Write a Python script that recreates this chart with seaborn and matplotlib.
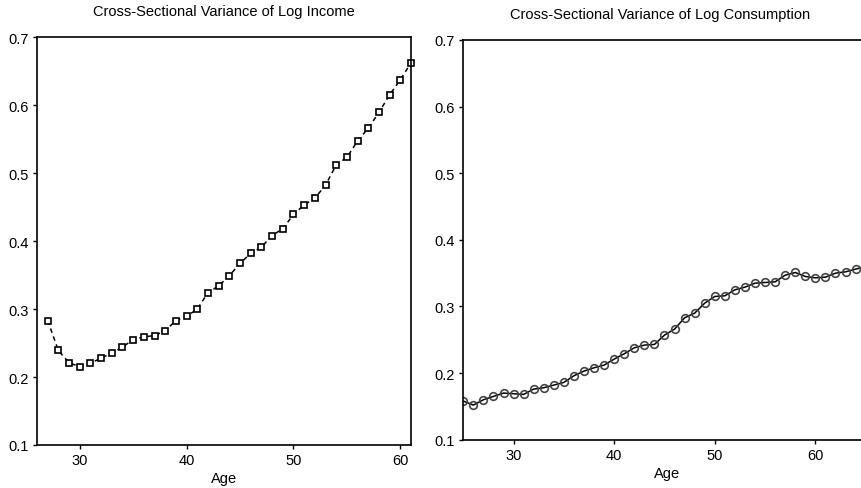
import numpy as np
import pandas as pd
import matplotlib
matplotlib.use("Agg")
import matplotlib.pyplot as plt
import seaborn as sns

# ages and variances
income_age = list(range(27, 62))
income_var = [0.283, 0.239, 0.221, 0.215, 0.220, 0.228, 0.235, 0.244, 0.255, 0.259,
              0.261, 0.268, 0.283, 0.289, 0.300, 0.324, 0.334, 0.349, 0.367, 0.382,
              0.391, 0.408, 0.418, 0.439, 0.453, 0.463, 0.482, 0.512, 0.523, 0.547,
              0.566, 0.589, 0.615, 0.637, 0.662]

cons_age = list(range(25, 66))
cons_var = [0.158, 0.152, 0.160, 0.165, 0.170, 0.169, 0.168, 0.176, 0.178, 0.182,
            0.186, 0.196, 0.203, 0.208, 0.212, 0.221, 0.229, 0.238, 0.242, 0.243,
            0.257, 0.266, 0.283, 0.290, 0.305, 0.315, 0.316, 0.325, 0.329, 0.335,
            0.336, 0.337, 0.347, 0.351, 0.345, 0.343, 0.344, 0.350, 0.352, 0.356,
            0.360]

income_title = "Cross-Sectional Variance of Log Income"
cons_title = "Cross-Sectional Variance of Log Consumption"
y_ticks = [0.1, 0.2, 0.3, 0.4, 0.5, 0.6, 0.7]
x_ticks = [30, 40, 50, 60]

df_inc = pd.DataFrame({"Age": income_age, "var": income_var})
df_con = pd.DataFrame({"Age": cons_age, "var": cons_var})

sns.set_style("ticks")
plt.rcParams["font.family"] = ["Liberation Sans", "DejaVu Sans"]
plt.rcParams["text.color"] = "black"
plt.rcParams["axes.labelcolor"] = "black"
plt.rcParams["font.size"] = 10.5

W, H = 862, 489
fig = plt.figure(figsize=(W / 100, H / 100), dpi=100)

ax1 = fig.add_axes([37 / W, 1 - 446 / H, (411 - 37) / W, (446 - 38) / H])
ax2 = fig.add_axes([463.3 / W, 1 - 440.7 / H, (870.7 - 463.3) / W, (440.7 - 41) / H])

sns.lineplot(data=df_inc, x="Age", y="var", ax=ax1, color="black", lw=1.1,
             linestyle=(0, (3, 2.5)), marker="s", markersize=4.6,
             markerfacecolor="white", markeredgecolor="black", markeredgewidth=1.2,
             clip_on=False)
sns.lineplot(data=df_con, x="Age", y="var", ax=ax2, color="black", lw=1.1,
             marker="o", markersize=5.5, markerfacecolor="none",
             markeredgecolor="#444444", markeredgewidth=1.2)

ax1.set_xlim(26, 61)
ax2.set_xlim(25, 65.5)
for ax, title, tx in [(ax1, income_title, 0.5), (ax2, cons_title, (660 - 463.3) / (870.7 - 463.3))]:
    ax.set_ylim(0.1, 0.7)
    ax.set_yticks(y_ticks)
    ax.set_yticklabels([f"{v:.1f}" for v in y_ticks])
    ax.set_xticks(x_ticks)
    ax.set_xlabel("Age", fontsize=10.5, labelpad=3)
    ax.set_ylabel("")
    ax.set_title(title, fontsize=10.5, x=tx, pad=16, color="black")
    ax.tick_params(direction="out", length=3, width=1, pad=3, labelsize=10.5,
                   colors="black")
    for s in ax.spines.values():
        s.set_visible(True)
        s.set_linewidth(1.2)
        s.set_color("black")

fig.savefig("out.png", dpi=100)
